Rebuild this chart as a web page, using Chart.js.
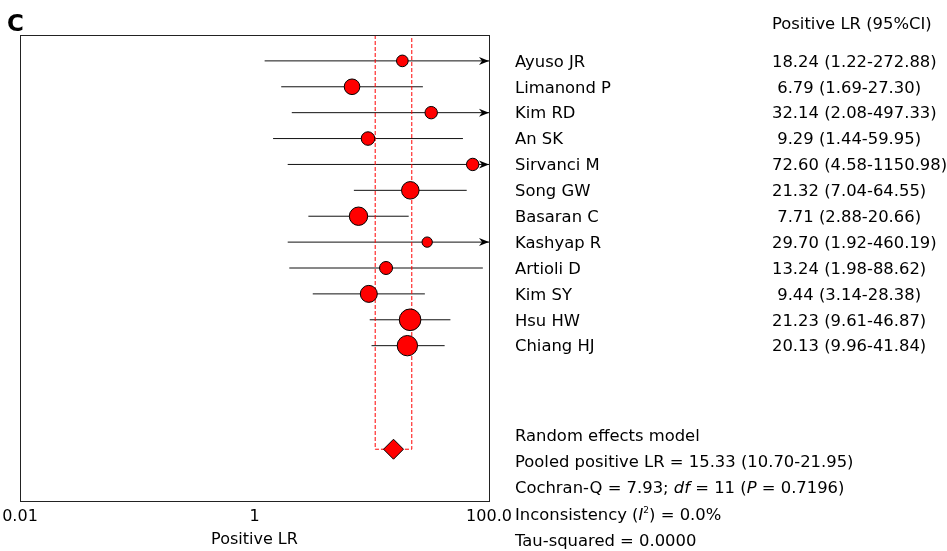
<!DOCTYPE html>
<html>
<head>
<meta charset="utf-8">
<script src="https://cdn.jsdelivr.net/npm/chart.js@4.4.1/dist/chart.umd.min.js"></script>
<style>
html, body { margin: 0; padding: 0; background: #ffffff; }
#wrap { position: relative; width: 947px; height: 551px; overflow: hidden;
  font-family: "DejaVu Sans", Verdana, sans-serif; font-size: 16.4px; color: #000; }
#c { position: absolute; left: 0; top: 0; }
.t { position: absolute; white-space: pre; line-height: 20px; }
.sup { font-size: 9px; line-height: 0; vertical-align: baseline; position: relative; top: -7px; }
#panel { position: absolute; left: 7px; top: 9px; font-weight: bold; font-size: 23px; line-height: 28px; }
</style>
</head>
<body>
<div id="wrap">
  <canvas id="c" width="947" height="551"></canvas>
  <div id="panel">C</div>
  <div id="txt"></div>
</div>
<script>
// ---------------- data ----------------
const studies = ["Ayuso JR", "Limanond P", "Kim RD", "An SK", "Sirvanci M", "Song GW",
                 "Basaran C", "Kashyap R", "Artioli D", "Kim SY", "Hsu HW", "Chiang HJ"];
const positiveLR = [18.24, 6.79, 32.14, 9.29, 72.60, 21.32, 7.71, 29.70, 13.24, 9.44, 21.23, 20.13];
const ciLowerLabel = [1.22, 1.69, 2.08, 1.44, 4.58, 7.04, 2.88, 1.92, 1.98, 3.14, 9.61, 9.96];
const ciUpper = [272.88, 27.30, 497.33, 59.95, 1150.98, 64.55, 20.66, 460.19, 88.62, 28.38, 46.87, 41.84];
// lower ends of the CI lines as drawn in the picture (Sirvanci's line starts near 1.92)
const ciLowerDrawn = [1.22, 1.69, 2.08, 1.44, 1.92, 7.04, 2.88, 1.92, 1.98, 3.14, 9.61, 9.96];
// relative study weights (marker area)
const studyWeights = [40, 69, 45, 53, 45, 86, 94, 32, 49, 81, 128, 114];
const pooledLR = 15.33;
const pooledLower = 10.70;
const pooledUpper = 21.95;
const xTickValues = [0.01, 1, 100];
const xTickLabels = ["0.01", "1", "100.0"];
const xAxisTitle = "Positive LR";
const columnHeader = "Positive LR (95%CI)";
const summaryTitle = "Random effects model";
const cochranQ = "7.93", dfValue = "11", pValue = "0.7196", inconsistency = "0.0%", tauSquared = "0.0000";

// ---------------- layout helpers (row indices on the y scale) ----------------
const yMin = -1, yMax = 17;
const pooledRow = 15;
const X_MIN = 0.01, X_MAX = 100;

const ciDatasets = studies.map((s, i) => ({
  type: 'line',
  label: s + ' CI',
  data: [{x: ciLowerDrawn[i], y: i}, {x: ciUpper[i], y: i}],
  borderColor: '#111',
  borderWidth: 1,
  pointRadius: 0,
  order: 5
}));

const pooledCI = {
  type: 'line',
  label: 'Pooled CI',
  data: [{x: pooledLower, y: yMin}, {x: pooledLower, y: pooledRow},
         {x: pooledUpper, y: pooledRow}, {x: pooledUpper, y: yMin}],
  borderColor: '#ff0000',
  borderWidth: 1,
  borderDash: [4, 2],
  pointRadius: 0,
  order: 4
};

const studyPoints = {
  type: 'scatter',
  label: 'Studies',
  data: positiveLR.map((v, i) => ({x: v, y: i})),
  backgroundColor: '#ff0000',
  borderColor: '#000',
  borderWidth: 1,
  pointRadius: studyWeights.map(w => Math.sqrt(w) - 0.5),
  pointHoverRadius: studyWeights.map(w => Math.sqrt(w) - 0.5),
  order: 1
};

const pooledPoint = {
  type: 'scatter',
  label: 'Pooled',
  data: [{x: pooledLR, y: pooledRow}],
  pointStyle: 'rectRot',
  backgroundColor: '#ff0000',
  borderColor: '#000',
  borderWidth: 1,
  pointRadius: 10,
  order: 0
};

// frame + arrows plugin (positions from the chart's scales)
const framePlugin = {
  id: 'frame',
  afterDatasetsDraw(chart) {
    const {ctx, chartArea: a, scales: {x, y}} = chart;
    ctx.save();
    ctx.fillStyle = '#000';
    ciUpper.forEach((u, i) => {
      if (u > X_MAX) {
        const tx = x.getPixelForValue(X_MAX);
        const ty = y.getPixelForValue(i);
        ctx.beginPath();
        ctx.moveTo(tx, ty);
        ctx.lineTo(tx - 10, ty - 4);
        ctx.lineTo(tx - 7, ty);
        ctx.lineTo(tx - 10, ty + 4);
        ctx.closePath();
        ctx.fill();
      }
    });
    ctx.strokeStyle = '#222';
    ctx.lineWidth = 1;
    ctx.strokeRect(Math.round(a.left) + 0.5, Math.round(a.top) + 0.5,
                   Math.round(a.right - a.left), Math.round(a.bottom - a.top));
    ctx.restore();
  }
};

// text columns positioned from the y scale
const textPlugin = {
  id: 'texts',
  afterRender(chart) {
    if (chart.$textsDone) return;
    chart.$textsDone = true;
    const box = document.getElementById('txt');
    const y = chart.scales.y;
    const a = chart.chartArea;
    const nameX = a.right + 26;
    const valX = 772;
    const add = (html, left, row) => {
      const d = document.createElement('div');
      d.className = 't';
      d.innerHTML = html;
      d.style.left = left + 'px';
      // baseline about 6.5px below the row centre
      d.style.top = (y.getPixelForValue(row) + 6.5 - 15.67) + 'px';
      box.appendChild(d);
    };
    add(columnHeader, valX, -1.47);
    studies.forEach((s, i) => {
      add(s, nameX, i);
      const v = positiveLR[i].toFixed(2).padStart(5, ' ');
      add(v + ' (' + ciLowerLabel[i].toFixed(2) + '-' + ciUpper[i].toFixed(2) + ')', valX, i);
    });
    add(summaryTitle, nameX, 14.44);
    add('Pooled positive LR = ' + pooledLR.toFixed(2) + ' (' + pooledLower.toFixed(2) + '-' + pooledUpper.toFixed(2) + ')', nameX, 15.46);
    add('Cochran-Q = ' + cochranQ + '; <i>df</i> = ' + dfValue + ' (<i>P</i> = ' + pValue + ')', nameX, 16.48);
    add('Inconsistency (<i>I</i><span class="sup">2</span>) = ' + inconsistency, nameX, 17.49);
    add('Tau-squared = ' + tauSquared, nameX, 18.5);
  }
};

new Chart(document.getElementById('c'), {
  data: { datasets: [...ciDatasets, pooledCI, studyPoints, pooledPoint] },
  options: {
    responsive: false,
    animation: false,
    events: [],
    layout: { padding: { left: 20, right: 458, top: 35, bottom: 0 } },
    plugins: { legend: { display: false }, tooltip: { enabled: false } },
    scales: {
      x: {
        type: 'logarithmic',
        min: X_MIN,
        max: X_MAX,
        afterBuildTicks: (scale) => { scale.ticks = xTickValues.map(v => ({value: v})); },
        afterFit: (scale) => { scale.height = 50; scale.paddingLeft = 0; scale.paddingRight = 0; },
        ticks: {
          autoSkip: false,
          maxRotation: 0,
          padding: 6,
          color: '#000',
          font: { family: '"DejaVu Sans", Verdana, sans-serif', size: 16 },
          callback: (v) => { const k = xTickValues.indexOf(v); return k >= 0 ? xTickLabels[k] : ''; }
        },
        grid: { display: false, drawTicks: false },
        border: { display: false },
        title: {
          display: true,
          text: xAxisTitle,
          color: '#000',
          font: { family: '"DejaVu Sans", Verdana, sans-serif', size: 16 },
          padding: { top: 3.6, bottom: 2 }
        }
      },
      y: {
        type: 'linear',
        display: false,
        reverse: true,
        min: yMin,
        max: yMax
      }
    }
  },
  plugins: [framePlugin, textPlugin]
});
</script>
</body>
</html>
